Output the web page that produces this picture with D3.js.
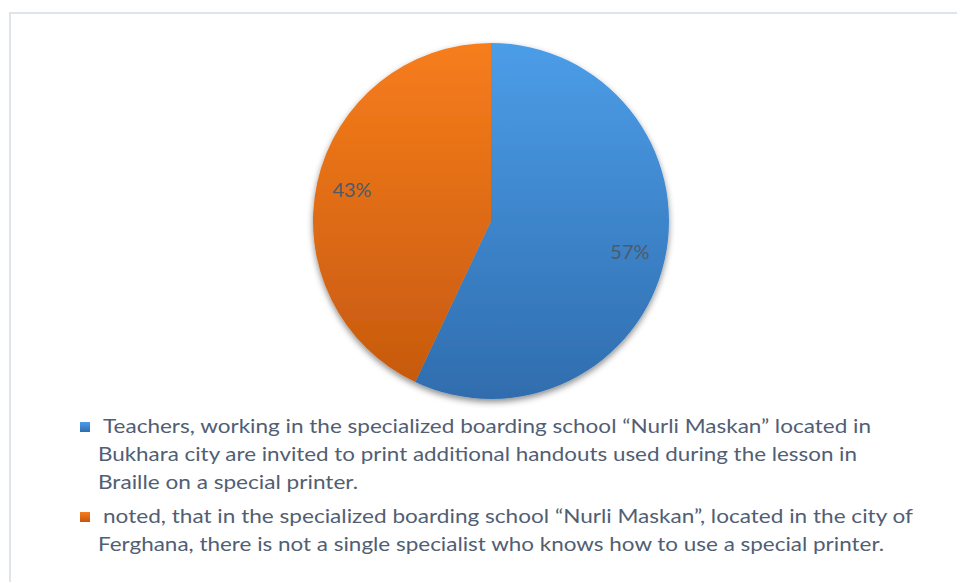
<!DOCTYPE html>
<html>
<head>
<meta charset="utf-8">
<script src="https://cdn.jsdelivr.net/npm/d3@7"></script>
<style>
  body { margin: 0; background: #fff; }
  svg { display: block; }
</style>
</head>
<body>
<svg id="chart" width="957" height="582"></svg>
<script>
// chart data
const categories = ['Bukhara', 'Ferghana'];
const shares = [57, 43];
const legendLines = [
  ['Teachers, working in the specialized boarding school \u201cNurli Maskan\u201d located in',
   'Bukhara city are invited to print additional handouts used during the lesson in',
   'Braille on a special printer.'],
  ['noted, that in the specialized boarding school \u201cNurli Maskan\u201d, located in the city of',
   'Ferghana, there is not a single specialist who knows how to use a special printer.']
];
// measured widths of each legend line in the picture
const lineWidths = [[768, 759, 260], [810, 786]];

const colors = [['#4c9de8', '#2f6dae'], ['#f77d1c', '#c4580e']];

const svg = d3.select('#chart');
const cx = 491, cy = 221, R = 178;
const font = 'Lato, "Open Sans", sans-serif';

// outer frame
svg.append('rect')
  .attr('x', 10).attr('y', 13)
  .attr('width', 960).attr('height', 590)
  .attr('fill', '#fff')
  .attr('stroke', '#dfe3ea')
  .attr('stroke-width', 2);

const defs = svg.append('defs');
colors.forEach((c, i) => {
  // slice gradient, in the pie group's coordinates
  const g = defs.append('linearGradient')
    .attr('id', 'grad' + i)
    .attr('gradientUnits', 'userSpaceOnUse')
    .attr('x1', 0).attr('y1', -R).attr('x2', 0).attr('y2', R);
  g.append('stop').attr('offset', '0%').attr('stop-color', c[0]);
  g.append('stop').attr('offset', '100%').attr('stop-color', c[1]);

  // legend swatch gradient
  const lg = defs.append('linearGradient').attr('id', 'legend' + i)
    .attr('x1', 0).attr('y1', 0).attr('x2', 0).attr('y2', 1);
  lg.append('stop').attr('offset', '0%').attr('stop-color', c[0]);
  lg.append('stop').attr('offset', '100%').attr('stop-color', c[1]);
});
const shadow = defs.append('filter').attr('id', 'shadow')
  .attr('x', '-20%').attr('y', '-20%').attr('width', '140%').attr('height', '140%');
shadow.append('feDropShadow')
  .attr('dx', 0).attr('dy', 3).attr('stdDeviation', 3)
  .attr('flood-color', '#000').attr('flood-opacity', 0.45);

const pie = d3.pie().sort(null).value(d => d);
const arc = d3.arc().innerRadius(0).outerRadius(R);
const labelArc = d3.arc().innerRadius(R * 0.8).outerRadius(R * 0.8);

const g = svg.append('g').attr('transform', `translate(${cx},${cy})`);

g.append('g').attr('filter', 'url(#shadow)')
  .selectAll('path')
  .data(pie(shares))
  .join('path')
  .attr('d', arc)
  .attr('fill', (d, i) => `url(#grad${i})`);

g.selectAll('text.pct')
  .data(pie(shares))
  .join('text')
  .attr('class', 'pct')
  .attr('transform', d => `translate(${labelArc.centroid(d)})`)
  .attr('text-anchor', 'middle')
  .attr('dy', '0.35em')
  .attr('font-family', font)
  .attr('font-size', 20)
  .attr('fill', '#4f5a66')
  .text(d => d.data + '%');

// legend
const legendTop = [433, 523];
const legend = svg.append('g')
  .attr('font-family', font)
  .attr('font-size', 20)
  .attr('fill', '#515e74');

legendLines.forEach((lines, i) => {
  legend.append('rect')
    .attr('x', 80).attr('y', legendTop[i] - 11)
    .attr('width', 10).attr('height', 10)
    .attr('fill', `url(#legend${i})`);

  lines.forEach((line, j) => {
    legend.append('text')
      .attr('x', j === 0 ? 103 : 98)
      .attr('y', legendTop[i] + j * 28)
      .attr('textLength', lineWidths[i][j])
      .attr('lengthAdjust', 'spacingAndGlyphs')
      .text(line);
  });
});
</script>
</body>
</html>
